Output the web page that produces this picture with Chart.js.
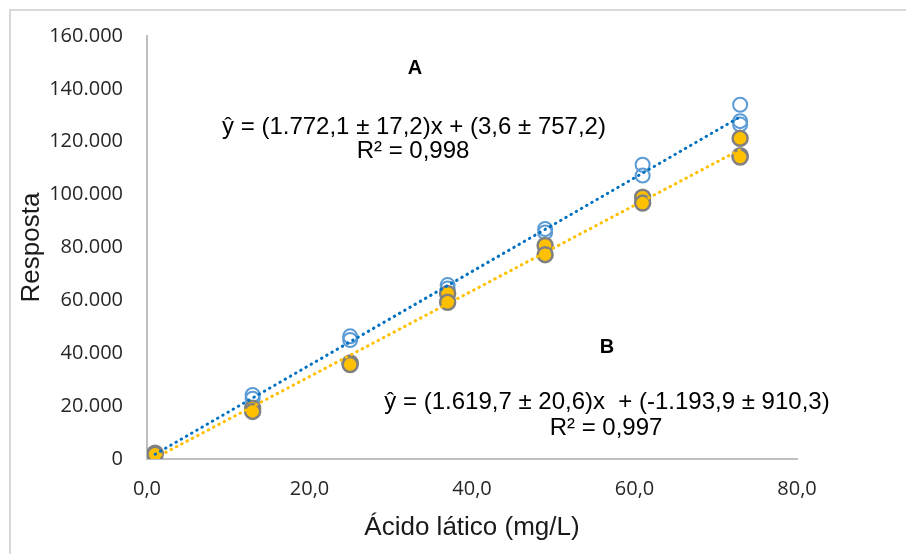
<!DOCTYPE html>
<html>
<head>
<meta charset="utf-8">
<script src="https://cdn.jsdelivr.net/npm/chart.js@4.4.1/dist/chart.umd.min.js"></script>
<style>
  body { margin: 0; background: #fff; }
  #wrap { width: 906px; height: 554px; }
</style>
</head>
<body>
<div id="wrap"><canvas id="calChart" width="906" height="554"></canvas></div>
<script>
// Curva A (círculos abertos azuis)
const concA = [1, 1, 13, 13, 25, 25, 37, 37, 49, 49, 61, 61, 73, 73, 73];
const respA = [2200, 2000, 24200, 22800, 46400, 45000, 65800, 64500, 87000, 85700, 111300, 107200, 134000, 127800, 126500];

// Curva B (círculos amarelos)
const concB = [1, 1, 13, 13, 25, 25, 37, 37, 49, 49, 61, 61, 73, 73, 73];
const respB = [2200, 1800, 19200, 18000, 36300, 35700, 62600, 59300, 80800, 77300, 99000, 96800, 121300, 114700, 114200];

// linhas de tendência (extremos)
const trendX = [1, 73];
const trendA = [1800, 129400];
const trendB = [400, 117000];

const xTicks = [0, 20, 40, 60, 80];
const yTicks = [0, 20000, 40000, 60000, 80000, 100000, 120000, 140000, 160000];

const eqA = ['ŷ = (1.772,1 ± 17,2)x + (3,6 ± 757,2)', 'R² = 0,998'];
const eqB = ['ŷ = (1.619,7 ± 20,6)x  + (-1.193,9 ± 910,3)', 'R² = 0,997'];

const toPts = (xs, ys) => xs.map((x, i) => ({ x: x, y: ys[i] }));

// rótulos A/B, equações e borda externa
const annotations = {
    id: 'annotations',
    beforeDraw(chart) {
        const c = chart.ctx;
        c.save();
        c.fillStyle = '#fff';
        c.fillRect(0, 0, chart.width, chart.height);
        c.strokeStyle = '#d9d9d9';
        c.lineWidth = 2;
        c.strokeRect(10, 10, chart.width, chart.height);
        c.restore();
    },
    afterDraw(chart) {
        const c = chart.ctx;
        c.save();
        c.fillStyle = '#000';
        c.textAlign = 'center';
        c.textBaseline = 'alphabetic';
        c.font = 'bold 20px "Liberation Sans", Arial, sans-serif';
        c.fillText('A', 415, 74);
        c.fillText('B', 607, 353);
        c.font = '24px "Liberation Sans", Arial, sans-serif';
        c.fillText(eqA[0], 414, 134);
        c.fillText(eqA[1], 413, 158);
        c.fillText(eqB[0], 607, 409);
        c.fillText(eqB[1], 606, 435);
        c.restore();
    }
};

const ctx = document.getElementById('calChart').getContext('2d');

let calChart = new Chart(ctx, {
    type: 'scatter',
    data: {
        datasets: [
            {
                type: 'line',
                label: 'Tendência A',
                data: toPts(trendX, trendA),
                borderColor: '#0070c0',
                borderWidth: 3,
                borderDash: [0.5, 5.5],
                borderCapStyle: 'round',
                pointRadius: 0,
                fill: false,
                order: 0
            },
            {
                type: 'line',
                label: 'Tendência B',
                data: toPts(trendX, trendB),
                borderColor: '#ffc000',
                borderWidth: 3,
                borderDash: [0.5, 5.5],
                borderCapStyle: 'round',
                pointRadius: 0,
                fill: false,
                order: 0
            },
            {
                label: 'B',
                data: toPts(concB, respB),
                pointRadius: 7.5,
                pointBackgroundColor: '#ffc000',
                pointBorderColor: '#808080',
                pointBorderWidth: 2.5,
                order: 1
            },
            {
                label: 'A',
                data: toPts(concA, respA),
                pointRadius: 7,
                pointBackgroundColor: 'rgba(0,0,0,0)',
                pointBorderColor: '#5b9bd5',
                pointBorderWidth: 2,
                order: 2
            }
        ]
    },
    options: {
        responsive: false,
        animation: false,
        events: [],
        layout: { padding: { left: 0, top: 35, right: 109, bottom: 0 } },
        plugins: {
            legend: { display: false },
            tooltip: { enabled: false }
        },
        scales: {
            x: {
                type: 'linear',
                min: 0,
                max: 80,
                afterFit: s => { s.height = 95; },
                afterBuildTicks: s => { s.ticks = xTicks.map(v => ({ value: v })); },
                grid: { display: false, drawTicks: false },
                border: { display: true, color: '#bfbfbf', width: 2 },
                ticks: {
                    padding: 18,
                    color: '#262626',
                    font: { family: '"Open Sans", sans-serif', size: 20 },
                    callback: v => v.toFixed(1).replace('.', ',')
                },
                title: {
                    display: true,
                    text: 'Ácido lático (mg/L)',
                    color: '#1a1a1a',
                    padding: { top: 0, bottom: 11 },
                    font: { family: '"Liberation Sans", Arial, sans-serif', size: 26 }
                }
            },
            y: {
                min: 0,
                max: 160000,
                afterFit: s => { s.width = 147; },
                afterBuildTicks: s => { s.ticks = yTicks.map(v => ({ value: v })); },
                grid: { display: false, drawTicks: false },
                border: { display: true, color: '#bfbfbf', width: 2 },
                ticks: {
                    padding: 24,
                    color: '#262626',
                    font: { family: '"Open Sans", sans-serif', size: 20 },
                    callback: v => String(v).replace(/\B(?=(\d{3})+(?!\d))/g, '.')
                },
                title: {
                    display: true,
                    text: 'Resposta',
                    color: '#1a1a1a',
                    padding: { top: 16, bottom: 0 },
                    font: { family: '"Liberation Sans", Arial, sans-serif', size: 26 }
                }
            }
        }
    },
    plugins: [annotations]
});
</script>
</body>
</html>
